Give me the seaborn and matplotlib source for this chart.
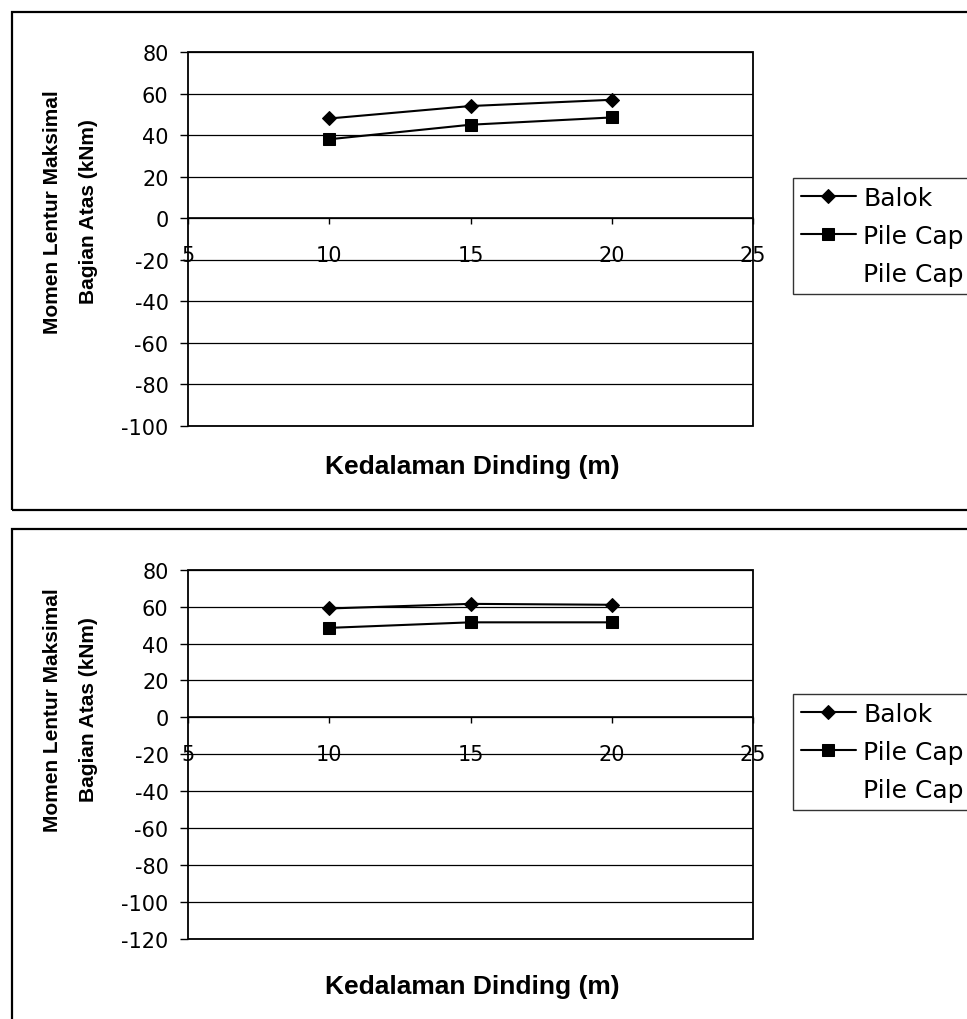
import matplotlib
matplotlib.use("Agg")
import matplotlib.pyplot as plt
from matplotlib.patches import Rectangle
from matplotlib.lines import Line2D
import seaborn as sns

# Wall depth (m) and maximum upper bending moment (kNm)
depth = [10, 15, 20]
balok_top = [48, 54, 57]
pilecap_top = [38, 45, 48.5]
balok_bottom = [59, 61.5, 61]
pilecap_bottom = [48.5, 51.5, 51.5]

x_ticks = [5, 10, 15, 20, 25]
y_ticks_top = [-100, -80, -60, -40, -20, 0, 20, 40, 60, 80]
y_ticks_bottom = [-120, -100, -80, -60, -40, -20, 0, 20, 40, 60, 80]

series_labels = ["Balok", "Pile Cap", "Pile Cap"]
x_title = "Kedalaman Dinding (m)"
y_title = ["Momen Lentur Maksimal", "Bagian Atas (kNm)"]

sns.set_theme(style="white")
plt.rcParams["font.family"] = ["DejaVu Sans"]
plt.rcParams["axes.unicode_minus"] = False
plt.rcParams["text.color"] = "black"
plt.rcParams["xtick.color"] = "black"
plt.rcParams["ytick.color"] = "black"

TITLE_FONT = ["Liberation Sans", "DejaVu Sans"]

W, H = 967, 1020
fig = plt.figure(figsize=(W / 100, H / 100), dpi=100)
fig.patch.set_facecolor("white")


def fx(px):
    return px / W


def fy(py):
    return 1 - py / H


def add_panel(top, bottom, balok, pile, yticks, legend_top, xlabel_y, ylabel_y):
    ax = fig.add_axes([fx(188), fy(bottom), fx(753) - fx(188), fy(top) - fy(bottom)])
    sns.lineplot(x=depth, y=balok, marker="D", markersize=7, color="black",
                 linewidth=1.5, markeredgecolor="black", ax=ax, label=series_labels[0])
    sns.lineplot(x=depth, y=pile, marker="s", markersize=8, color="black",
                 linewidth=1.5, markeredgecolor="black", ax=ax, label=series_labels[1])
    ax.set_xlim(x_ticks[0], x_ticks[-1])
    ax.set_ylim(yticks[0], yticks[-1])
    ax.set_xticks(x_ticks)
    ax.set_yticks(yticks)
    ax.set_xlabel("")
    ax.set_ylabel("")
    ax.grid(False)
    ax.yaxis.grid(True, color="black", linewidth=0.9)
    ax.set_axisbelow(True)
    for side in ("top", "right", "left"):
        ax.spines[side].set_visible(False)
    ax.spines["bottom"].set_position(("data", 0))
    ax.spines["bottom"].set_color("black")
    ax.spines["bottom"].set_linewidth(1.2)
    ax.add_patch(Rectangle((0, 0), 1, 1, transform=ax.transAxes, fill=False,
                           edgecolor="black", linewidth=1.3, clip_on=False, zorder=4))
    ax.tick_params(axis="x", direction="out", length=4, width=1, pad=15,
                   labelsize=15, colors="black", bottom=True)
    ax.tick_params(axis="y", direction="out", length=6, width=1, pad=8,
                   labelsize=15, colors="black", left=True)

    handles, labels = ax.get_legend_handles_labels()
    handles.append(Line2D([], [], linestyle="none", marker=None))
    labels.append(series_labels[2])
    leg = ax.legend(handles, labels, loc="upper left",
                    bbox_to_anchor=(fx(793), fy(legend_top)), bbox_transform=fig.transFigure,
                    frameon=True, fancybox=False, edgecolor="black", fontsize=18,
                    handlelength=2.2, handletextpad=0.3, borderpad=0.3,
                    labelspacing=0.57, borderaxespad=0)
    leg.get_frame().set_linewidth(1.0)
    for t in leg.get_texts():
        t.set_color("black")

    fig.text(fx(472), fy(xlabel_y), x_title, ha="center", va="center",
             fontsize=19, fontweight="bold", family=TITLE_FONT)
    fig.text(fx(53), fy(ylabel_y), y_title[0], ha="center", va="center",
             rotation=90, fontsize=15, fontweight="bold", family=TITLE_FONT)
    fig.text(fx(89), fy(ylabel_y), y_title[1], ha="center", va="center",
             rotation=90, fontsize=15, fontweight="bold", family=TITLE_FONT)
    return ax


add_panel(53, 427, balok_top, pilecap_top, y_ticks_top, 179, 467, 212)
add_panel(570.7, 940, balok_bottom, pilecap_bottom, y_ticks_bottom, 695, 987, 710)

# Chart frames
fig.add_artist(Rectangle((fx(12), fy(511)), fx(980) - fx(12), fy(13) - fy(511),
                         transform=fig.transFigure, fill=False, edgecolor="black", linewidth=1.6))
fig.add_artist(Rectangle((fx(12), fy(1040)), fx(980) - fx(12), fy(530) - fy(1040),
                         transform=fig.transFigure, fill=False, edgecolor="black", linewidth=1.6))

fig.savefig("out.png", dpi=100)
